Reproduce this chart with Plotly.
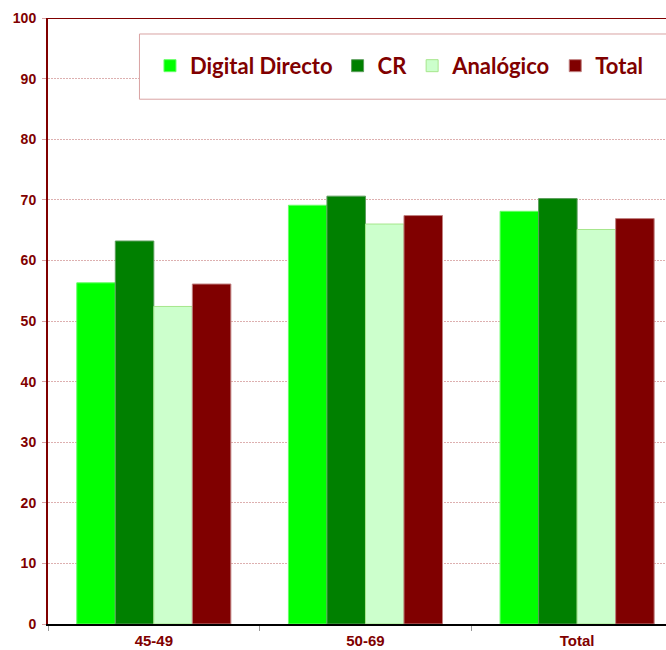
import plotly.graph_objects as go

grupos = ["45-49", "50-69", "Total"]
series = ["Digital Directo", "CR", "Analógico", "Total"]
digital_directo = [56.3, 69.1, 68.1]
cr = [63.2, 70.6, 70.2]
analogico = [52.4, 66.0, 65.1]
total = [56.1, 67.4, 66.9]

colores = ["#00FF00", "#008000", "#CCFFCC", "#800000"]
bordes = ["#66FF66", "#5C9E5C", "#A6E68C", "#C08080"]
rojo = "#800000"

fig = go.Figure()
for nombre, valores, color, borde in zip(series, [digital_directo, cr, analogico, total], colores, bordes):
    fig.add_trace(go.Bar(
        x=grupos, y=valores, name=nombre,
        marker=dict(color=color, line=dict(color=borde, width=1)),
    ))

fig.update_layout(
    width=666, height=650,
    margin=dict(l=48, r=0, t=18, b=26),
    plot_bgcolor="white", paper_bgcolor="white",
    barmode="group", bargap=0.272, bargroupgap=0,
    showlegend=True,
    legend=dict(
        orientation="h", x=0.165, y=0.921, xanchor="left", yanchor="middle",
        bgcolor="rgba(0,0,0,0)", borderwidth=0,
        font=dict(family="Lato", size=22, weight="bold", color=rojo),
        traceorder="normal",
    ),
)

fig.update_xaxes(
    range=[-0.5, 2.42], automargin=False,
    showline=True, linecolor="black", linewidth=2,
    ticks="outside", tickson="boundaries", ticklen=5, tickcolor="#999999",
    ticklabelstandoff=2,
    tickfont=dict(family="Arial, Liberation Sans", size=15, weight="bold", color=rojo),
    showgrid=False,
)
fig.update_yaxes(
    range=[0, 100], dtick=10, automargin=False,
    showline=True, linecolor=rojo, linewidth=2,
    ticks="outside", ticklen=4, tickcolor="#D9A3A3", ticklabelstandoff=3,
    tickfont=dict(family="Arial, Liberation Sans", size=14, weight="bold", color=rojo),
    showgrid=True, gridcolor="#DDB0B0", griddash="2px,1px", gridwidth=1,
    zeroline=False,
)

# borde superior del area de trazado
fig.add_shape(type="line", xref="paper", yref="y", x0=0, x1=1, y0=100, y1=100,
              line=dict(color=rojo, width=2))
# caja de la leyenda
fig.add_shape(type="rect", xref="paper", yref="paper", x0=0.148, x1=1.05, y0=0.866, y1=0.9736,
              fillcolor="white", line=dict(color="#D9A3A3", width=1), layer="above")

fig.write_html(
    "out.html",
    config={"displayModeBar": False},
    post_script="document.body.style.margin='0';document.body.style.overflow='hidden';",
)
